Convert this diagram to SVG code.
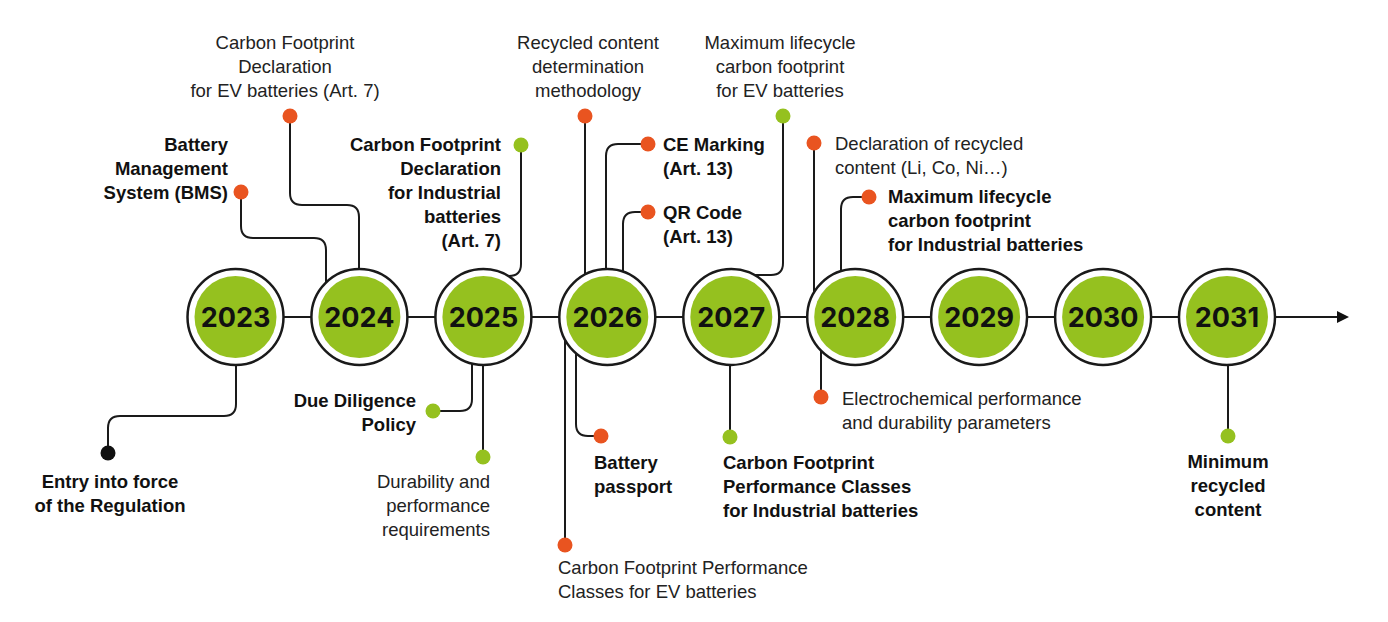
<svg xmlns="http://www.w3.org/2000/svg" width="1388" height="622" viewBox="0 0 1388 622">
<style>
  .conn{fill:none;stroke:#1a1a1a;stroke-width:2;}
  .ring{fill:#fff;stroke:#1a1a1a;stroke-width:2.5;}
  .core{fill:#95C11F;}
  .yr{font-family:Inter,"Liberation Sans",sans-serif;font-weight:700;font-size:27px;fill:#111;text-anchor:middle;}
  .t{font-family:"Liberation Sans",Arial,sans-serif;font-size:18.5px;fill:#222;}
  .b{font-family:"Liberation Sans",Arial,sans-serif;font-size:18.5px;font-weight:700;fill:#111;}
  .g{fill:#95C11F;}
  .o{fill:#E95420;}
  .k{fill:#111;}
</style>
<rect width="1388" height="622" fill="#fff"/>
<g id="connectors">
  <line class="conn" x1="236" y1="317" x2="1338" y2="317"/>
  <polygon points="1337,311 1349,317 1337,323" fill="#111"/>
  <path class="conn" d="M290,116 V193 Q290,205 302,205 H347 Q359,205 359,217 V300"/>
  <path class="conn" d="M241,192 V226 Q241,238 253,238 H314 Q326,238 326,250 V300"/>
  <path class="conn" d="M521,145 V264 Q521,276 509,276 H490"/>
  <path class="conn" d="M433,411 H460 Q472,411 472,399 V330"/>
  <path class="conn" d="M483,330 V457"/>
  <path class="conn" d="M236,330 V404 Q236,416 224,416 H120 Q108,416 108,428 V453"/>
  <path class="conn" d="M585,116 V300"/>
  <path class="conn" d="M648,144 H618 Q606,144 606,156 V300"/>
  <path class="conn" d="M648,212 H635 Q623,212 623,224 V300"/>
  <path class="conn" d="M783,116 V263 Q783,275 771,275 H750"/>
  <path class="conn" d="M576,330 V424 Q576,436 588,436 H601"/>
  <path class="conn" d="M565,330 V545"/>
  <path class="conn" d="M730,330 V437"/>
  <path class="conn" d="M814,143 V300"/>
  <path class="conn" d="M869,197 H853 Q841,197 841,209 V300"/>
  <path class="conn" d="M821,330 V397"/>
  <path class="conn" d="M1228,330 V436"/>
</g>
<g id="year-2023"><circle class="ring" cx="235.5" cy="317" r="48"/><circle class="core" cx="235.5" cy="317" r="41"/><text class="yr" x="235.5" y="327">2023</text></g>
<g id="year-2024"><circle class="ring" cx="359.4" cy="317" r="48"/><circle class="core" cx="359.4" cy="317" r="41"/><text class="yr" x="359.4" y="327">2024</text></g>
<g id="year-2025"><circle class="ring" cx="483.4" cy="317" r="48"/><circle class="core" cx="483.4" cy="317" r="41"/><text class="yr" x="483.4" y="327">2025</text></g>
<g id="year-2026"><circle class="ring" cx="607.3" cy="317" r="48"/><circle class="core" cx="607.3" cy="317" r="41"/><text class="yr" x="607.3" y="327">2026</text></g>
<g id="year-2027"><circle class="ring" cx="731.3" cy="317" r="48"/><circle class="core" cx="731.3" cy="317" r="41"/><text class="yr" x="731.3" y="327">2027</text></g>
<g id="year-2028"><circle class="ring" cx="855.2" cy="317" r="48"/><circle class="core" cx="855.2" cy="317" r="41"/><text class="yr" x="855.2" y="327">2028</text></g>
<g id="year-2029"><circle class="ring" cx="979.1" cy="317" r="48"/><circle class="core" cx="979.1" cy="317" r="41"/><text class="yr" x="979.1" y="327">2029</text></g>
<g id="year-2030"><circle class="ring" cx="1103.1" cy="317" r="48"/><circle class="core" cx="1103.1" cy="317" r="41"/><text class="yr" x="1103.1" y="327">2030</text></g>
<g id="year-2031"><circle class="ring" cx="1227" cy="317" r="48"/><circle class="core" cx="1227" cy="317" r="41"/><text class="yr" x="1227" y="327">2031</text></g>

<g id="cf-ev-decl"><circle class="o" cx="290" cy="116" r="7.5"/>
  <text class="t" text-anchor="middle"><tspan x="285" y="49">Carbon Footprint</tspan><tspan x="285" y="73">Declaration</tspan><tspan x="285" y="97">for EV batteries (Art. 7)</tspan></text></g>
<g id="bms"><circle class="o" cx="241" cy="192" r="7.5"/>
  <text class="b" text-anchor="end"><tspan x="228" y="151">Battery</tspan><tspan x="228" y="175">Management</tspan><tspan x="228" y="199">System (BMS)</tspan></text></g>
<g id="cf-ind-decl"><circle class="g" cx="521" cy="145" r="7.5"/>
  <text class="b" text-anchor="end"><tspan x="501" y="151">Carbon Footprint</tspan><tspan x="501" y="175">Declaration</tspan><tspan x="501" y="199">for Industrial</tspan><tspan x="501" y="223">batteries</tspan><tspan x="501" y="247">(Art. 7)</tspan></text></g>
<g id="due-diligence"><circle class="g" cx="433" cy="411" r="7.5"/>
  <text class="b" text-anchor="end"><tspan x="416" y="407">Due Diligence</tspan><tspan x="416" y="431">Policy</tspan></text></g>
<g id="durability"><circle class="g" cx="483" cy="457" r="7.5"/>
  <text class="t" text-anchor="end"><tspan x="490" y="488">Durability and</tspan><tspan x="490" y="512">performance</tspan><tspan x="490" y="536">requirements</tspan></text></g>
<g id="entry-into-force"><circle class="k" cx="108" cy="453" r="7.5"/>
  <text class="b" text-anchor="middle"><tspan x="110" y="488">Entry into force</tspan><tspan x="110" y="512">of the Regulation</tspan></text></g>
<g id="recycled-method"><circle class="o" cx="585" cy="116" r="7.5"/>
  <text class="t" text-anchor="middle"><tspan x="588" y="49">Recycled content</tspan><tspan x="588" y="73">determination</tspan><tspan x="588" y="97">methodology</tspan></text></g>
<g id="ce-marking"><circle class="o" cx="648" cy="144" r="7.5"/>
  <text class="b"><tspan x="663" y="151">CE Marking</tspan><tspan x="663" y="175">(Art. 13)</tspan></text></g>
<g id="qr-code"><circle class="o" cx="648" cy="212" r="7.5"/>
  <text class="b"><tspan x="663" y="219">QR Code</tspan><tspan x="663" y="243">(Art. 13)</tspan></text></g>
<g id="max-cf-ev"><circle class="g" cx="783" cy="116" r="7.5"/>
  <text class="t" text-anchor="middle"><tspan x="780" y="49">Maximum lifecycle</tspan><tspan x="780" y="73">carbon footprint</tspan><tspan x="780" y="97">for EV batteries</tspan></text></g>
<g id="battery-passport"><circle class="o" cx="601" cy="436" r="7.5"/>
  <text class="b"><tspan x="594" y="469">Battery</tspan><tspan x="594" y="493">passport</tspan></text></g>
<g id="cf-classes-ev"><circle class="o" cx="565" cy="545" r="7.5"/>
  <text class="t"><tspan x="558" y="574">Carbon Footprint Performance</tspan><tspan x="558" y="598">Classes for EV batteries</tspan></text></g>
<g id="cf-classes-ind"><circle class="g" cx="730" cy="437" r="7.5"/>
  <text class="b"><tspan x="723" y="469">Carbon Footprint</tspan><tspan x="723" y="493">Performance Classes</tspan><tspan x="723" y="517">for Industrial batteries</tspan></text></g>
<g id="recycled-decl"><circle class="o" cx="814" cy="143" r="7.5"/>
  <text class="t"><tspan x="835" y="150">Declaration of recycled</tspan><tspan x="835" y="174">content (Li, Co, Ni…)</tspan></text></g>
<g id="max-cf-ind"><circle class="o" cx="869" cy="197" r="7.5"/>
  <text class="b"><tspan x="888" y="203">Maximum lifecycle</tspan><tspan x="888" y="227">carbon footprint</tspan><tspan x="888" y="251">for Industrial batteries</tspan></text></g>
<g id="electrochemical"><circle class="o" cx="821" cy="397" r="7.5"/>
  <text class="t"><tspan x="842" y="405">Electrochemical performance</tspan><tspan x="842" y="429">and durability parameters</tspan></text></g>
<g id="min-recycled"><circle class="g" cx="1228" cy="436" r="7.5"/>
  <text class="b" text-anchor="middle"><tspan x="1228" y="468">Minimum</tspan><tspan x="1228" y="492">recycled</tspan><tspan x="1228" y="516">content</tspan></text></g>
</svg>
